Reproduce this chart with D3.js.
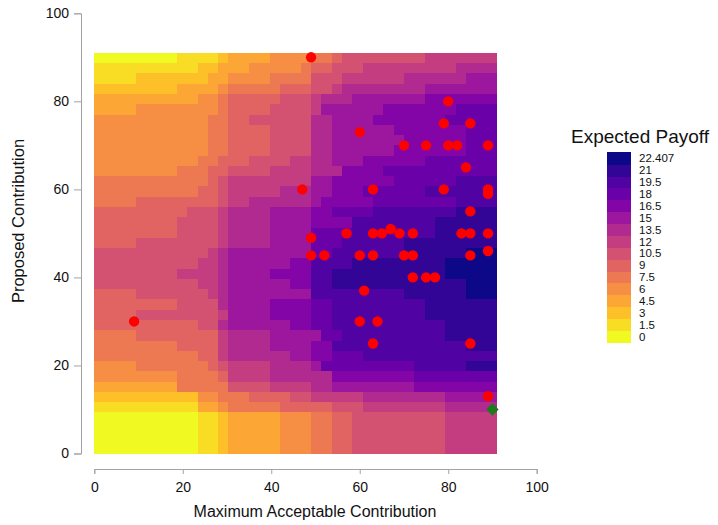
<!DOCTYPE html>
<html lang="en">
<head>
<meta charset="utf-8">
<title>Expected Payoff</title>
<script src="https://cdn.jsdelivr.net/npm/d3@7"></script>
<style>
  body { margin: 0; background: #fff; }
  text { font-family: Helvetica, Arial, "Liberation Sans", sans-serif; }
</style>
</head>
<body>
<script>
// colour levels of the legend, low to high
var levels = [0, 1.5, 3, 4.5, 6, 7.5, 9, 10.5, 12, 13.5, 15, 16.5, 18, 19.5, 21, 22.407];

// heatmap grid: gridN x gridN cells covering 0..gridMax on both axes
var gridMax = 91, gridN = 39;

// one string per row, top row first; "level:count" runs from left to right
var rows = [
  "0:8 1:4 2:1 3:4 4:4 5:2 6:1 7:8 8:7",
  "1:10 2:2 3:3 4:5 5:1 6:2 7:3 8:9 9:4",
  "1:4 2:7 3:2 4:4 5:4 7:3 8:6 9:6 10:3",
  "2:8 3:4 4:1 5:5 6:3 7:2 8:1 9:8 10:7",
  "3:10 4:2 5:1 6:5 7:3 8:1 9:3 10:7 11:7",
  "3:4 4:8 5:1 6:4 7:4 8:1 10:6 11:7 12:4",
  "4:11 5:2 6:2 7:6 9:2 10:4 11:7 12:5",
  "4:11 5:2 6:4 7:4 9:2 10:6 11:7 12:3",
  "4:11 5:2 6:4 7:4 9:2 10:7 11:6 12:3",
  "4:11 5:2 6:4 7:4 9:2 10:6 11:7 12:3",
  "4:10 5:2 6:3 7:4 8:2 9:2 10:3 11:6 12:7",
  "4:8 5:3 6:2 7:4 8:4 9:3 11:4 12:11",
  "5:11 6:1 7:1 8:8 10:2 11:6 12:6 13:4",
  "5:10 6:2 7:1 8:5 9:3 10:2 11:3 12:6 13:7",
  "5:4 6:8 7:1 8:2 9:6 10:1 11:5 12:8 13:4",
  "6:9 7:3 8:1 9:4 10:4 11:2 12:4 13:8 14:4",
  "6:8 7:4 8:1 9:4 10:4 11:4 13:8 14:6",
  "6:8 7:4 8:1 9:4 10:4 12:4 13:8 14:6",
  "6:4 7:8 8:1 9:4 10:4 12:3 13:6 14:9",
  "7:11 8:1 9:1 10:8 12:2 13:7 14:6 15:3",
  "7:10 8:2 9:1 10:6 11:2 13:4 14:9 15:5",
  "7:8 8:4 9:1 10:4 11:4 13:2 14:11 15:5",
  "7:10 8:2 9:1 10:6 11:2 13:2 14:13 15:3",
  "6:4 7:7 8:1 9:1 10:8 13:9 14:6 15:3",
  "6:8 7:4 9:1 10:4 11:4 12:2 13:9 14:7",
  "6:4 7:8 8:1 10:4 11:4 12:2 13:9 14:7",
  "6:10 7:2 9:1 10:6 11:2 12:2 13:11 14:5",
  "5:4 6:8 8:1 9:4 10:5 12:2 13:10 14:5",
  "5:8 6:4 8:1 9:4 10:4 11:2 13:13 14:3",
  "5:10 6:2 8:1 9:6 10:2 11:2 12:3 13:13",
  "4:4 5:7 6:1 7:1 8:4 9:4 10:1 12:9 13:5 14:3",
  "4:8 5:4 6:1 8:4 9:6 11:8 12:8",
  "3:8 5:5 7:4 8:4 9:2 10:8 11:8",
  "2:10 4:2 5:3 6:4 7:2 8:5 9:8 10:5",
  "1:10 3:2 4:1 5:5 6:5 7:3 8:8 9:5",
  "0:10 1:2 2:1 3:5 4:3 5:2 6:2 7:9 8:5",
  "0:10 1:2 2:1 3:5 4:3 5:2 6:2 7:9 8:5",
  "0:10 1:2 2:1 3:5 4:3 5:2 6:2 7:9 8:5",
  "0:10 1:2 2:1 3:5 4:3 5:2 6:2 7:9 8:5"
];

// observed proposals (red) and the optimum (green)
var pointX = [49, 80, 79, 85, 60, 70, 75, 80, 82, 89, 84, 47, 63, 79, 89, 89, 85,
              57, 63, 65, 67, 69, 72, 83, 85, 89, 49, 49, 52, 60, 63, 70, 72, 85, 89,
              72, 75, 77, 61, 60, 64, 9, 63, 85, 89];
var pointY = [90, 80, 75, 75, 73, 70, 70, 70, 70, 70, 65, 60, 60, 60, 60, 59, 55,
              50, 50, 50, 51, 50, 50, 50, 50, 50, 49, 45, 45, 45, 45, 45, 45, 45, 46,
              40, 40, 40, 37, 30, 30, 30, 25, 25, 13];
var bestX = [90], bestY = [10];

var xTicks = [0, 20, 40, 60, 80, 100];
var yTicks = [0, 20, 40, 60, 80, 100];

var width = 718, height = 525;

var svg = d3.select("body").append("svg")
  .attr("width", width)
  .attr("height", height);

var x = d3.scaleLinear().domain([0, 100]).range([94.3, 536.7]);
var y = d3.scaleLinear().domain([0, 100]).range([453.5, 13.3]);

function colorOf(i) {
  return d3.interpolatePlasma(1 - i / (levels.length - 1));
}

// expand the run strings into cells
var step = gridMax / gridN;
var cells = [];
rows.forEach(function(r, k) {
  var j = 0;
  r.split(" ").forEach(function(tok) {
    var p = tok.split(":");
    for (var n = 0; n < +p[1]; n++) {
      cells.push({col: j, row: k, lev: +p[0]});
      j++;
    }
  });
});

svg.append("g")
  .attr("shape-rendering", "crispEdges")
  .selectAll("rect")
  .data(cells)
  .enter().append("rect")
  .attr("x", function(d) { return x(d.col * step); })
  .attr("y", function(d) { return y(gridMax - d.row * step); })
  .attr("width", function(d) { return x((d.col + 1) * step) - x(d.col * step) + 0.5; })
  .attr("height", function(d) { return y(gridMax - (d.row + 1) * step) - y(gridMax - d.row * step) + 0.5; })
  .attr("fill", function(d) { return colorOf(d.lev); });

// axes
var yAxis = svg.append("g")
  .attr("transform", "translate(81,0)")
  .call(d3.axisLeft(y).tickValues(yTicks).tickSize(7).tickPadding(5));
var xAxis = svg.append("g")
  .attr("transform", "translate(0,469)")
  .call(d3.axisBottom(x).tickValues(xTicks).tickSize(5).tickPadding(8));

[xAxis, yAxis].forEach(function(g) {
  g.selectAll("path, line").attr("stroke", "#a3a3a3");
  g.selectAll("text").attr("fill", "#111").style("font-size", "14px")
    .style("font-family", "Helvetica, Arial, 'Liberation Sans', sans-serif");
});

svg.append("text")
  .attr("x", 315).attr("y", 517)
  .attr("text-anchor", "middle")
  .style("font-size", "16px")
  .attr("fill", "#111")
  .text("Maximum Acceptable Contribution");

svg.append("text")
  .attr("transform", "translate(24,221) rotate(-90)")
  .attr("text-anchor", "middle")
  .style("font-size", "16.5px")
  .attr("fill", "#111")
  .text("Proposed Contribution");

// points
svg.append("g").selectAll("circle")
  .data(pointX.map(function(v, i) { return {x: v, y: pointY[i]}; }))
  .enter().append("circle")
  .attr("cx", function(d) { return x(d.x); })
  .attr("cy", function(d) { return y(d.y); })
  .attr("r", 5.2)
  .attr("fill", "#ff0000");

svg.append("g").selectAll("path")
  .data(bestX.map(function(v, i) { return {x: v, y: bestY[i]}; }))
  .enter().append("path")
  .attr("d", d3.symbol().type(d3.symbolSquare).size(76))
  .attr("transform", function(d) { return "translate(" + x(d.x) + "," + y(d.y) + ") rotate(45)"; })
  .attr("fill", "#1b7c1b");

// legend
var legendTop = 152.3, legendBottom = 342.3;
var band = d3.scaleBand()
  .domain(levels.slice().reverse())
  .range([legendTop, legendBottom]);

var legend = svg.append("g");
legend.append("text")
  .attr("x", 571).attr("y", 143)
  .style("font-size", "19px")
  .attr("fill", "#111")
  .text("Expected Payoff");

legend.selectAll("rect")
  .data(levels)
  .enter().append("rect")
  .attr("shape-rendering", "crispEdges")
  .attr("x", 606.7)
  .attr("y", function(d) { return band(d); })
  .attr("width", 24)
  .attr("height", band.bandwidth() + 0.5)
  .attr("fill", function(d, i) { return colorOf(i); });

legend.selectAll("text.lab")
  .data(levels)
  .enter().append("text")
  .attr("class", "lab")
  .attr("x", 639)
  .attr("y", function(d) { return band(d) + band.bandwidth() / 2; })
  .attr("dy", "0.36em")
  .style("font-size", "11.5px")
  .attr("fill", "#111")
  .text(function(d) { return String(d); });
</script>
</body>
</html>
